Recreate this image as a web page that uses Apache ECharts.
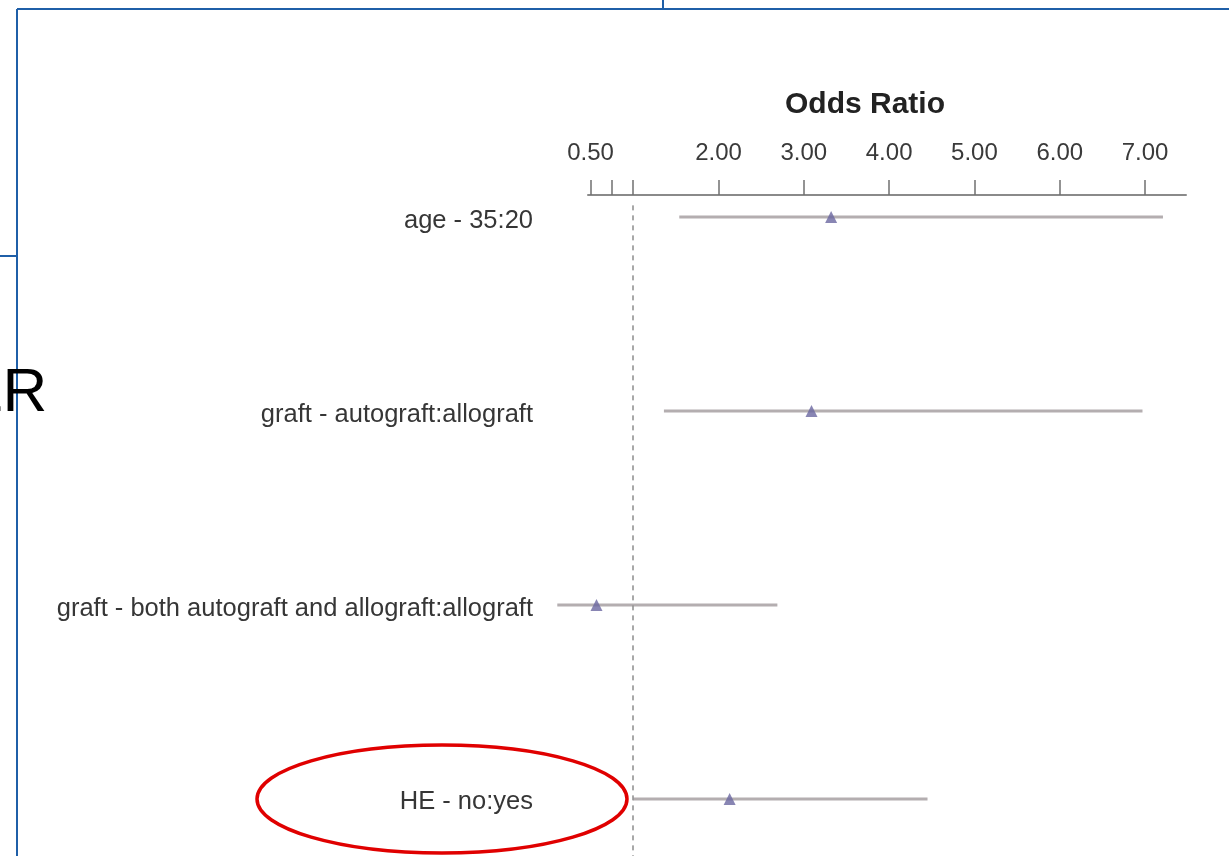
<!DOCTYPE html>
<html>
<head>
<meta charset="utf-8">
<script src="https://cdn.jsdelivr.net/npm/echarts@6/dist/echarts.min.js"></script>
<style>html,body{margin:0;padding:0;background:#fff;}#c{width:1229px;height:856px;}</style>
</head>
<body>
<div id="c"></div>
<script>
const categories = ['age - 35:20', 'graft - autograft:allograft', 'graft - both autograft and allograft:allograft', 'HE - no:yes'];
const oddsRatio = [3.32, 3.09, 0.57, 2.13];
const lowerCI = [1.54, 1.36, 0.11, 1.00];
const upperCI = [7.21, 6.97, 2.69, 4.45];
const tickValues = [0.5, 0.75, 1, 2, 3, 4, 5, 6, 7];
const labelValues = [0.5, 2, 3, 4, 5, 6, 7];
const refValue = 1;

const font = '"Liberation Sans", Arial, Helvetica, sans-serif';
const chart = echarts.init(document.getElementById('c'));
const rowIdx = categories.map((c, i) => i);

chart.setOption({
  backgroundColor: '#ffffff',
  animation: false,
  title: {
    text: 'Odds Ratio', left: 860, top: 85, textAlign: 'center',
    textStyle: { fontFamily: font, fontSize: 30, fontWeight: 'bold', color: '#222' }
  },
  grid: { left: 588, right: 43, top: 195, bottom: 0 },
  xAxis: {
    type: 'value', position: 'top', min: 0.47, max: 7.48,
    axisLine: { show: true, onZero: false, lineStyle: { color: '#8a8a8a', width: 2 } },
    axisTick: { show: true, customValues: tickValues, length: 15, lineStyle: { color: '#707070', width: 1.5 } },
    axisLabel: { customValues: labelValues, formatter: v => Number(v).toFixed(2), margin: 30,
      fontFamily: font, fontSize: 24, color: '#3a3a3a' },
    splitLine: { show: false }
  },
  yAxis: {
    type: 'value', inverse: true, min: -0.1134, max: 3.294,
    axisLine: { show: false }, axisTick: { show: false }, splitLine: { show: false },
    axisLabel: { customValues: rowIdx, formatter: v => '{a|' + (categories[Math.round(v)] || '') + '}', margin: 55,
      rich: { a: { fontFamily: font, fontSize: 25.5, color: '#363636', padding: [7, 0, 0, 0] } },
      fontFamily: font, fontSize: 25.5, color: '#363636' }
  },
  series: [
    {
      type: 'custom', clip: false, silent: true,
      data: rowIdx.map(i => [lowerCI[i], upperCI[i], i]),
      encode: { x: [0, 1], y: 2 },
      renderItem: function (params, api) {
        const a = api.coord([api.value(0), api.value(2)]);
        const b = api.coord([api.value(1), api.value(2)]);
        return { type: 'line', shape: { x1: a[0], y1: a[1], x2: b[0], y2: b[1] },
          style: { stroke: '#b4aeb0', lineWidth: 3 } };
      },
      z: 2
    },
    {
      type: 'scatter', clip: false, symbol: 'triangle', symbolSize: [12, 12],
      itemStyle: { color: '#6a67a0' },
      data: rowIdx.map(i => [oddsRatio[i], i]),
      z: 3,
      markLine: {
        silent: true, symbol: 'none', label: { show: false },
        lineStyle: { color: '#8c8c8c', type: [5, 5], width: 1.5 },
        data: [[{ coord: [refValue, -0.06] }, { coord: [refValue, 3.294] }]]
      }
    }
  ],
  graphic: [
    { type: 'line', shape: { x1: 17, y1: 9, x2: 1229, y2: 9 }, style: { stroke: '#1f5fa8', lineWidth: 2 } },
    { type: 'line', shape: { x1: 17, y1: 9, x2: 17, y2: 856 }, style: { stroke: '#1f5fa8', lineWidth: 2 } },
    { type: 'line', shape: { x1: 663, y1: 0, x2: 663, y2: 9 }, style: { stroke: '#1f5fa8', lineWidth: 2 } },
    { type: 'line', shape: { x1: 0, y1: 256, x2: 17, y2: 256 }, style: { stroke: '#1f5fa8', lineWidth: 2 } },
    { type: 'text', x: -32, y: 394, style: { text: 'LR', fill: '#000', font: '62px "Liberation Sans", Arial, sans-serif', verticalAlign: 'middle', align: 'left' }, z: 10 },
    { type: 'ellipse', shape: { cx: 442, cy: 799, rx: 185, ry: 54 }, style: { fill: 'none', stroke: '#e00000', lineWidth: 3.5 }, z: 10 }
  ]
});
</script>
</body>
</html>
